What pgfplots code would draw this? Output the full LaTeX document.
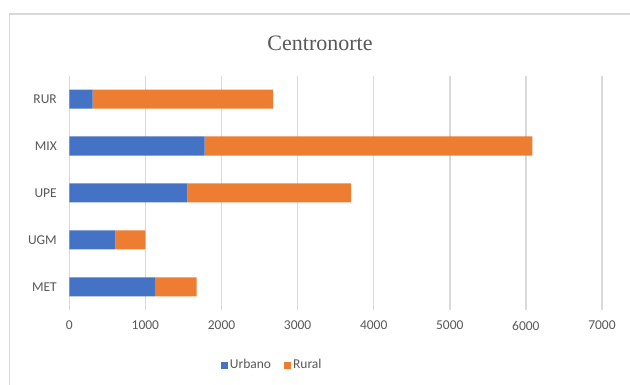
\documentclass[border=0pt]{standalone}
\usepackage{pgfplots}
\pgfplotsset{compat=1.18}
\usepackage{fontspec}
\setmainfont{Carlito}
\newfontfamily\titlefont{Liberation Serif}
\definecolor{urbano}{HTML}{4472C4}
\definecolor{rural}{HTML}{ED7D31}
\definecolor{gridc}{HTML}{D9D9D9}
\definecolor{labc}{HTML}{595959}
\definecolor{framec}{HTML}{D9D9D9}

% Urban and rural counts per category (0 = MET ... 4 = RUR)
\begin{document}
\begin{tikzpicture}
\useasboundingbox (0pt,0pt) rectangle (630pt,385pt);
\fill[white] (0pt,0pt) rectangle (630pt,385pt);
% chart frame (top and left edges)
\draw[framec, line width=1.5pt] (9.5pt,0pt) -- (9.5pt,371pt) -- (630pt,371pt);
\node[font=\titlefont\fontsize{22}{24}\selectfont, text=labc] at (320pt,342pt) {Centronorte};
\begin{axis}[
  at={(69.3pt,74.5pt)}, anchor=south west,
  scale only axis, width=532.7pt, height=235pt,
  xbar stacked, bar width=19pt,
  xmin=0, xmax=7000, ymin=-0.5, ymax=4.5,
  xtick={0,1000,...,7000},
  ytick={0,1,2,3,4},
  yticklabels={MET,UGM,UPE,MIX,RUR},
  axis line style={draw=none},
  major tick length=0pt,
  xmajorgrids, grid style={gridc, line width=1.5pt},
  /pgf/number format/assume math mode=true,
  /pgf/number format/1000 sep={},
  tick label style={font=\fontsize{13.5}{15}\selectfont, text=labc},
  xticklabel style={yshift=-7pt},
  yticklabel style={xshift=-9pt},
  legend style={at={(0.381,-0.232)}, anchor=center, draw=none, fill=none,
    legend columns=2, font=\fontsize{13.5}{15}\selectfont, text=labc,
    /tikz/every even column/.append style={column sep=11pt},
    cells={anchor=west}},
  legend image code/.code={\fill[#1] (0pt,-3.5pt) rectangle (7pt,3.5pt);},
]
\addplot[fill=urbano, draw=none] coordinates {(1126,0) (605,1) (1551,2) (1779,3) (307,4)};
\addplot[fill=rural, draw=none] coordinates {(548,0) (395,1) (2151,2) (4306,3) (2373,4)};
\legend{Urbano,Rural}
\end{axis}
\end{tikzpicture}
\end{document}
